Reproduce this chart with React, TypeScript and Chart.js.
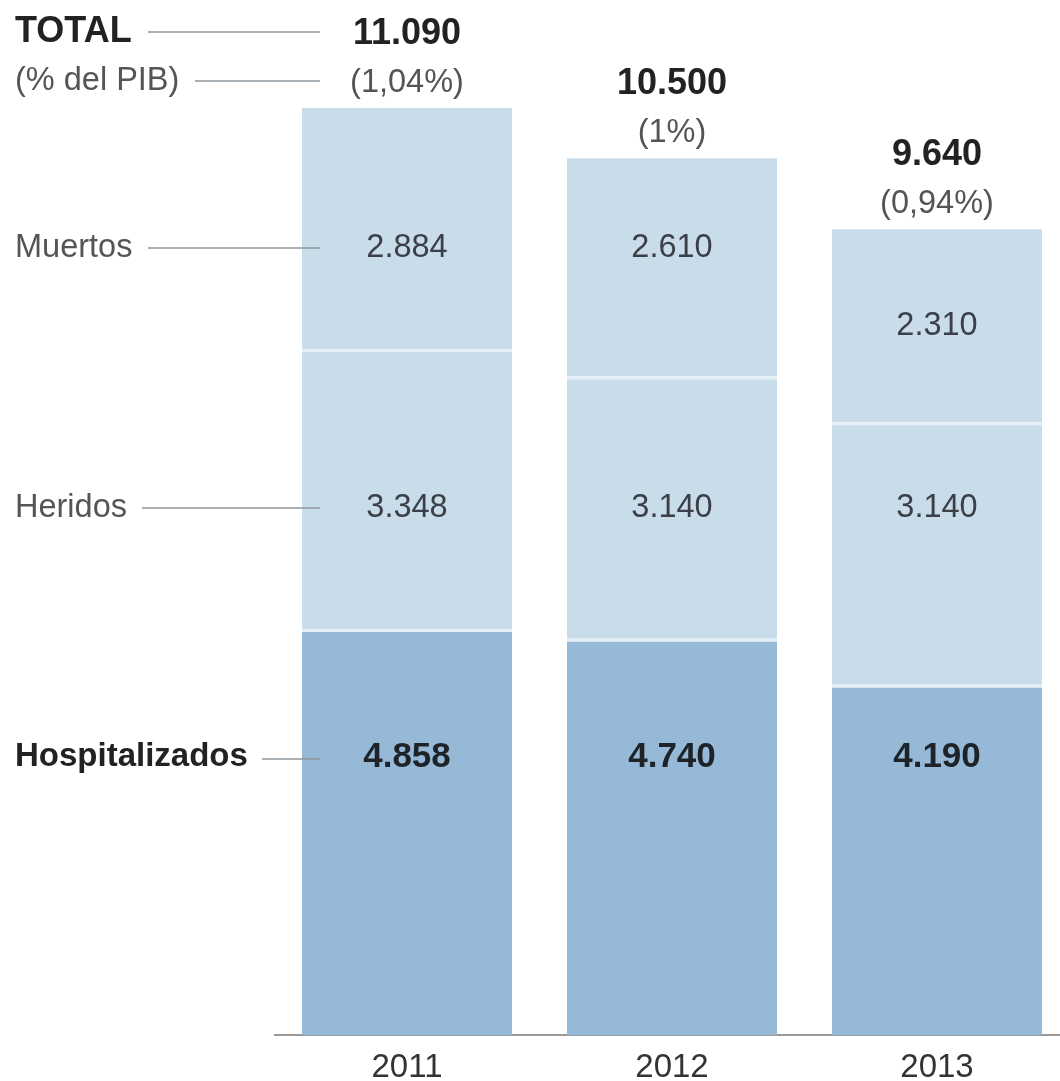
import React, { useEffect, useRef } from "react";
import { Chart, registerables } from "chart.js";

Chart.register(...registerables);

const YEARS = ["2011", "2012", "2013"];
const HOSPITALIZADOS = [4858, 4740, 4190];
const HERIDOS = [3348, 3140, 3140];
const MUERTOS = [2884, 2610, 2310];
const TOTALS = [11090, 10500, 9640];
const PIB_PCT = ["(1,04%)", "(1%)", "(0,94%)"];
const SERIES_NAMES = ["Hospitalizados", "Heridos", "Muertos"];

const FONT = "'Liberation Sans', Arial, sans-serif";
const fmt = (v: number) => String(v).replace(/\B(?=(\d{3})+(?!\d))/g, ".");

// layout (pixels)
const ROW_Y: Record<string, number> = { Muertos: 248, Heridos: 508, Hospitalizados: 757 };
const LINE_START: Record<string, number> = { Muertos: 148, Heridos: 142, Hospitalizados: 262 };
const LINE_END = 320;

const overlayPlugin = {
  id: "overlay",
  afterDraw(chart: any) {
    const ctx = chart.ctx as CanvasRenderingContext2D;
    ctx.save();
    ctx.textBaseline = "middle";

    const hline = (x1: number, x2: number, y: number) => {
      ctx.beginPath();
      ctx.strokeStyle = "#8e979e";
      ctx.lineWidth = 1.5;
      ctx.moveTo(x1, y);
      ctx.lineTo(x2, y);
      ctx.stroke();
    };

    // header labels
    ctx.textAlign = "left";
    ctx.fillStyle = "#222";
    ctx.font = `bold 36px ${FONT}`;
    ctx.fillText("TOTAL", 15, 32);
    hline(148, LINE_END, 32);
    ctx.fillStyle = "#555";
    ctx.font = `32.5px ${FONT}`;
    ctx.fillText("(% del PIB)", 15, 81);
    hline(195, LINE_END, 81);

    // series labels
    SERIES_NAMES.forEach((name) => {
      const bold = name === "Hospitalizados";
      ctx.textAlign = "left";
      ctx.fillStyle = bold ? "#222" : "#555";
      ctx.font = bold ? `bold 33px ${FONT}` : `32.5px ${FONT}`;
      ctx.fillText(name, 15, ROW_Y[name]);
      hline(LINE_START[name], LINE_END, ROW_Y[name] + (bold ? 2 : 0));
    });

    // values inside bars
    chart.data.datasets.forEach((ds: any, di: number) => {
      const meta = chart.getDatasetMeta(di);
      const name = SERIES_NAMES[di];
      const bold = name === "Hospitalizados";
      meta.data.forEach((el: any, j: number) => {
        const top = Math.min(el.y, el.base);
        const bottom = Math.max(el.y, el.base);
        let y = ROW_Y[name];
        if (y < top + 40) y = (top + bottom) / 2;
        ctx.textAlign = "center";
        ctx.fillStyle = bold ? "#1e2328" : "#3b4046";
        ctx.font = bold ? `bold 35px ${FONT}` : `32.5px ${FONT}`;
        ctx.fillText(fmt(ds.data[j]), el.x, y);
      });
    });

    // totals above bars
    const lastMeta = chart.getDatasetMeta(chart.data.datasets.length - 1);
    lastMeta.data.forEach((el: any, j: number) => {
      const top = Math.min(el.y, el.base);
      ctx.textAlign = "center";
      ctx.fillStyle = "#222";
      ctx.font = `bold 36px ${FONT}`;
      ctx.fillText(fmt(TOTALS[j]), el.x, top - 74);
      ctx.fillStyle = "#555";
      ctx.font = `32.5px ${FONT}`;
      ctx.fillText(PIB_PCT[j], el.x, top - 25);
    });

    ctx.restore();
  },
};

export default function App() {
  const ref = useRef<HTMLCanvasElement | null>(null);

  useEffect(() => {
    if (!ref.current) return;
    const sep = "#e4eef6";
    const chart = new Chart(ref.current, {
      type: "bar",
      data: {
        labels: YEARS,
        datasets: [
          {
            label: SERIES_NAMES[0],
            data: HOSPITALIZADOS,
            backgroundColor: "#96b9d7",
            borderColor: sep,
            borderWidth: { top: 3, right: 0, bottom: 0, left: 0 },
            borderSkipped: false,
          },
          {
            label: SERIES_NAMES[1],
            data: HERIDOS,
            backgroundColor: "#c9dcea",
            borderColor: sep,
            borderWidth: { top: 3, right: 0, bottom: 0, left: 0 },
            borderSkipped: false,
          },
          {
            label: SERIES_NAMES[2],
            data: MUERTOS,
            backgroundColor: "#c9dcea",
            borderWidth: 0,
          },
        ],
      },
      options: {
        animation: false,
        responsive: false,
        maintainAspectRatio: false,
        layout: { padding: { left: 274.5, right: 0.5, top: 32, bottom: 0 } },
        plugins: { legend: { display: false }, tooltip: { enabled: false } },
        datasets: { bar: { categoryPercentage: 1, barPercentage: 0.7925 } },
        scales: {
          x: {
            stacked: true,
            offset: true,
            grid: { display: false, drawTicks: false },
            border: { display: true, color: "#9a9a9a", width: 2 },
            ticks: {
              color: "#333",
              padding: 16,
              font: { family: FONT, size: 33, lineHeight: 1 },
            },
          },
          y: {
            stacked: true,
            display: false,
            min: 0,
            max: 12000,
          },
        },
      },
      plugins: [overlayPlugin],
    } as any);
    return () => chart.destroy();
  }, []);

  return (
    <div
      style={{
        position: "absolute",
        left: 0,
        top: 0,
        width: 1060,
        height: 1081,
        overflow: "hidden",
        background: "#fff",
      }}
    >
      <canvas ref={ref} width={1070} height={1100} style={{ display: "block" }} />
    </div>
  );
}
